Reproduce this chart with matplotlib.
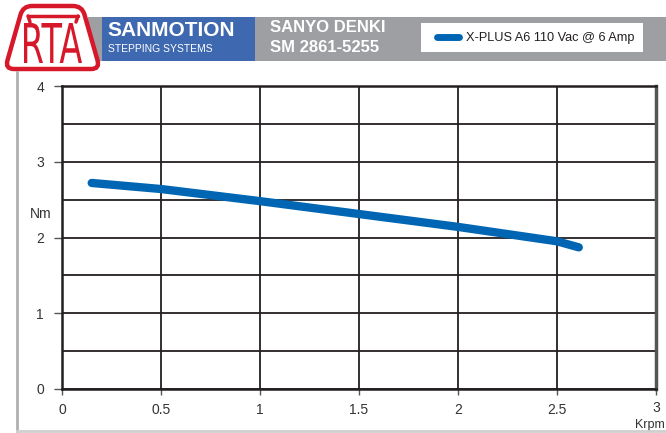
import matplotlib
matplotlib.use("Agg")
import matplotlib.pyplot as plt
import numpy as np
from matplotlib.patches import Rectangle, PathPatch
from matplotlib.path import Path
from matplotlib.textpath import TextPath
from matplotlib.font_manager import FontProperties
from matplotlib.transforms import Affine2D

plt.rcParams['font.family'] = ['Liberation Sans', 'DejaVu Sans']

# torque curve
speed = [0.15, 0.5, 1.0, 1.5, 2.0, 2.5, 2.61]
torque = [2.72, 2.64, 2.48, 2.31, 2.14, 1.95, 1.87]
series_label = 'X-PLUS A6 110 Vac @ 6 Amp'
x_ticks = [0, 0.5, 1, 1.5, 2, 2.5, 3]
x_labels = ['0', '0.5', '1', '1.5', '2', '2.5', '3']
y_ticks = [0, 1, 2, 3, 4]

blue = '#0066b3'
dark = '#231f20'
red = '#d7182a'

fig = plt.figure(figsize=(6.66, 4.33), dpi=100)

ax = fig.add_axes([62/666, 44/433, 594/666, 303/433])
ax.plot(speed, torque, color=blue, lw=6, solid_capstyle='round',
        solid_joinstyle='round', zorder=3)
ax.set_xlim(0, 3)
ax.set_ylim(0, 4)
ax.set_xticks(x_ticks)
ax.set_xticklabels(x_labels[:-1] + [''])
ax.set_yticks(y_ticks)
ax.set_yticks(np.arange(0.5, 4, 1.0), minor=True)
ax.grid(which='both', color=dark, lw=1.3)
ax.tick_params(axis='y', which='major', length=6, width=1, color='#555',
               labelsize=10, labelcolor='#333', pad=7)
ax.tick_params(axis='y', which='minor', length=0)
ax.tick_params(axis='x', length=4, width=1, color='#555', labelsize=10,
               labelcolor='#333', pad=6)
for s in ['left', 'bottom', 'top']:
    ax.spines[s].set_color(dark)
    ax.spines[s].set_linewidth(1.8)
ax.spines['right'].set_color('#555')
ax.spines['right'].set_linewidth(2.5)

fig.text(30/666, 1 - 214/433, 'Nm', fontsize=10, color='#333', ha='left', va='center')
fig.text(656/666, 1 - 408/433, '3', fontsize=10, color='#333', ha='center', va='center')
fig.text(650/666, 1 - 425/433, 'Krpm', fontsize=9, color='#333', ha='center', va='center')

# header and frame, drawn in pixel coordinates
bg = fig.add_axes([0, 0, 1, 1], zorder=5)
bg.set_xlim(0, 666)
bg.set_ylim(433, 0)
bg.axis('off')

bg.plot([17, 17], [72, 431], color='#b0b0b0', lw=2)
bg.plot([17, 666], [431, 431], color='#cfcfcf', lw=2)

bg.add_patch(Rectangle((88, 17), 578, 44, color='#9d9fa2', lw=0))
bg.add_patch(Rectangle((102, 17), 153, 44, color='#3e68b0', lw=0))
bg.add_patch(Rectangle((421, 23), 222, 29, color='white', lw=0))
bg.plot([437, 459], [37, 37], color=blue, lw=5, solid_capstyle='round')
bg.text(466, 37.5, series_label, fontsize=9.2, color=dark, va='center', ha='left')

bg.text(107, 31, 'SANMOTION', fontsize=15, fontweight='bold', color='white',
        va='center', ha='left')
bg.text(108, 49, 'STEPPING SYSTEMS', fontsize=7.5, color='white', va='center', ha='left')
bg.text(270, 28, 'SANYO DENKI', fontsize=12, fontweight='bold', color='white',
        va='center', ha='left')
bg.text(270, 48, 'SM 2861-5255', fontsize=12, fontweight='bold', color='white',
        va='center', ha='left')


def rounded_poly(pts, r):
    verts, codes = [], []
    n = len(pts)
    for i in range(n):
        p0 = np.array(pts[i - 1], float)
        p1 = np.array(pts[i], float)
        p2 = np.array(pts[(i + 1) % n], float)
        a = p1 + (p0 - p1) / np.linalg.norm(p0 - p1) * r
        b = p1 + (p2 - p1) / np.linalg.norm(p2 - p1) * r
        verts += [a, p1, b]
        codes += [Path.LINETO if i else Path.MOVETO, Path.CURVE3, Path.CURVE3]
    verts.append(verts[0])
    codes.append(Path.CLOSEPOLY)
    return Path(verts, codes)


logo = rounded_poly([(23, 6), (82, 6), (100, 69), (5, 69)], 9)
bg.add_patch(PathPatch(logo, facecolor='white', edgecolor=red, lw=3.2))

tp = TextPath((0, 0), 'RTA', size=1, prop=FontProperties(family='DejaVu Sans'))
ext = tp.get_extents()
tr = (Affine2D().translate(-ext.x0, -ext.y0)
      .scale(58 / ext.width, -40 / ext.height).translate(24, 63))
bg.add_patch(PathPatch(tr.transform_path(tp), facecolor=red, edgecolor='none'))
bg.plot([28, 78], [16, 16], color=red, lw=2.5, solid_capstyle='round')
bg.plot([28, 30], [16, 22], color=red, lw=2.5, solid_capstyle='round')
bg.plot([78, 76], [16, 22], color=red, lw=2.5, solid_capstyle='round')

fig.savefig('out.png', dpi=100)
